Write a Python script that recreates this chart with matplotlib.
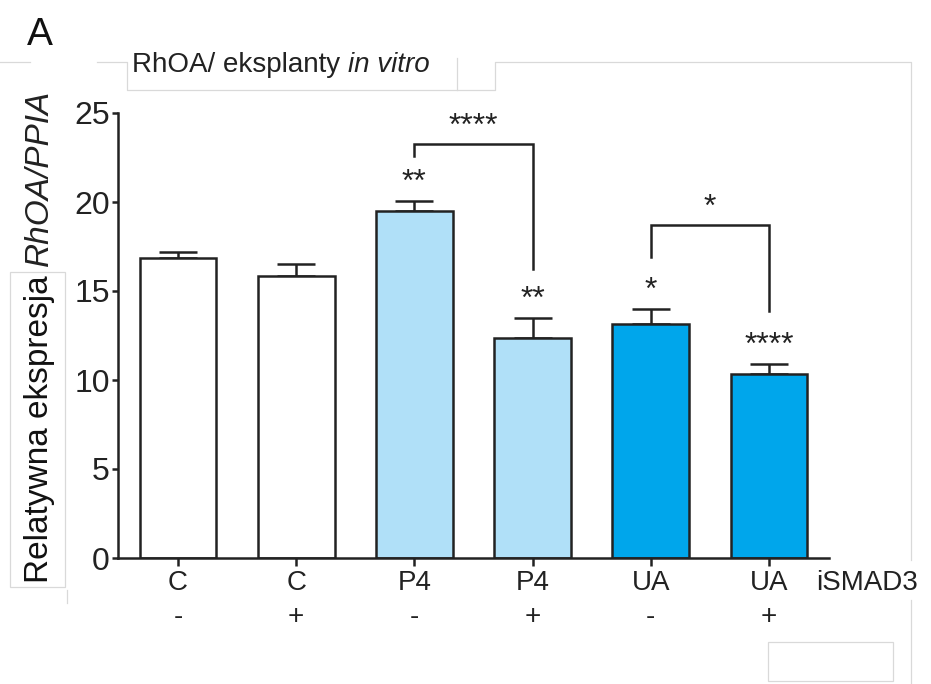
import matplotlib
matplotlib.use('Agg')
import matplotlib.pyplot as plt
from matplotlib.lines import Line2D
from matplotlib.patches import Rectangle

plt.rcParams['font.family'] = ['Liberation Sans', 'DejaVu Sans']

# dane: RhOA/PPIA, eksplanty in vitro
grupy = ['C', 'C', 'P4', 'P4', 'UA', 'UA']
ismad3 = ['-', '+', '-', '+', '-', '+']
srednie = [16.85, 15.85, 19.5, 12.35, 13.15, 10.35]
bledy = [0.35, 0.65, 0.55, 1.15, 0.85, 0.55]
kolory = ['white', 'white', '#b0e0f8', '#b0e0f8', '#00a6eb', '#00a6eb']
gwiazdki = ['', '', '**', '**', '*', '****']

# porownania (lewy, prawy, gora klamry, dol lewej nogi, dol prawej nogi, opis)
klamry_pary = [(2, 3), (4, 5)]
klamry_gora = [23.25, 18.7]
klamry_lewa = [22.6, 16.9]
klamry_prawa = [16.25, 13.9]
klamry_opis = ['****', '*']

W, H = 931, 684
fig = plt.figure(figsize=(W / 100, H / 100), dpi=100)
ax = fig.add_axes([118 / W, 1 - 558 / H, (829 - 118) / W, (558 - 113) / H])

lw = 1.8
x = list(range(len(grupy)))
ax.bar(x, srednie, width=0.65, color=kolory, edgecolor='#222222', linewidth=lw, zorder=2)
ax.errorbar(x, srednie, yerr=[[0] * len(bledy), bledy], fmt='none', ecolor='#222222',
            elinewidth=lw, capsize=14, capthick=lw, zorder=1)

for xi, s, b, g in zip(x, srednie, bledy, gwiazdki):
    if g:
        ax.annotate(g, (xi, s + b), xytext=(0, 7), textcoords='offset points',
                    ha='center', va='baseline', fontsize=23, color='#222222')

for (a, b), top, yl, yr, opis in zip(klamry_pary, klamry_gora, klamry_lewa, klamry_prawa, klamry_opis):
    ax.plot([a, a, b, b], [yl, top, top, yr], color='#222222', lw=lw, solid_joinstyle='miter')
    ax.annotate(opis, ((a + b) / 2, top), xytext=(0, 7), textcoords='offset points',
                ha='center', va='baseline', fontsize=23, color='#222222')

ax.set_xlim(-0.507, 5.507)
ax.set_ylim(0, 25)
ax.set_yticks([0, 5, 10, 15, 20, 25])
ax.set_xticks(x)
ax.set_xticklabels(grupy, fontsize=20, color='#222222')
ax.tick_params(axis='y', labelsize=23, length=4.5, width=lw, pad=1.5, colors='#222222')
ax.tick_params(axis='x', length=5.5, width=lw, pad=3, colors='#222222')
for s in ['top', 'right']:
    ax.spines[s].set_visible(False)
for s in ['left', 'bottom']:
    ax.spines[s].set_linewidth(lw)
    ax.spines[s].set_color('#222222')

for xi, z in zip(x, ismad3):
    ax.text(xi, -0.133, z, transform=ax.get_xaxis_transform(), ha='center', va='center',
            fontsize=20, color='#222222')
ax.text(5.40, -0.027, 'iSMAD3', transform=ax.get_xaxis_transform(), ha='left', va='top',
        fontsize=20, color='#222222')

# ramki w tle
def px(xp, yp):
    return xp / W, 1 - yp / H

szary = '#d9d9d9'
linie = [
    [(0, 62), (30, 62)],
    [(97, 62), (127, 62), (127, 90), (495, 90), (495, 62), (911, 62), (911, 560)],
    [(457, 58), (457, 90)],
    [(911, 600), (911, 684)],
    [(67, 590), (67, 603)],
]
for seg in linie:
    xs, ys = zip(*[px(*p) for p in seg])
    fig.add_artist(Line2D(xs, ys, color=szary, lw=0.9, transform=fig.transFigure))
for (x0, y0, x1, y1) in [(10, 272, 65, 587), (768, 642, 893, 681)]:
    fig.add_artist(Rectangle(px(x0, y1), (x1 - x0) / W, (y1 - y0) / H, fill=False,
                             edgecolor=szary, lw=0.9, transform=fig.transFigure))

fig.text(*px(27, 45), 'A', fontsize=28, ha='left', va='baseline', color='#111111')

renderer = fig.canvas.get_renderer()
t1 = fig.text(*px(132, 72), 'RhOA/ eksplanty ', fontsize=20, ha='left', va='baseline',
              color='#222222')
bb = t1.get_window_extent(renderer)
fig.text(bb.x1 / W, 1 - 72 / H, 'in vitro', fontsize=20, style='italic', ha='left',
         va='baseline', color='#222222')

t2 = fig.text(*px(48, 583), 'Relatywna ekspresja ', fontsize=24, rotation=90,
              rotation_mode='anchor', ha='left', va='baseline', color='#111111')
bb = t2.get_window_extent(renderer)
fig.text(48 / W, bb.y1 / H, 'RhOA/PPIA', fontsize=24, rotation=90, style='italic',
         rotation_mode='anchor', ha='left', va='baseline', color='#222222')

fig.savefig('out.png', dpi=100)
